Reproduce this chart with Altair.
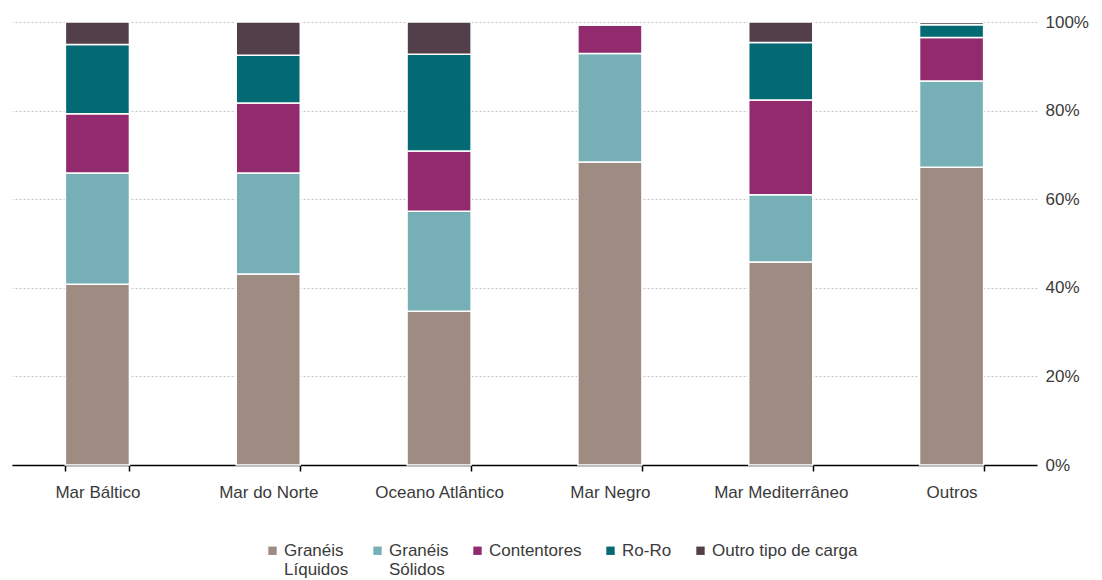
import altair as alt
import pandas as pd

regions = ["Mar Báltico", "Mar do Norte", "Oceano Atlântico", "Mar Negro",
           "Mar Mediterrâneo", "Outros"]
cargo_types = ["Granéis Líquidos", "Granéis Sólidos", "Contentores", "Ro-Ro",
               "Outro tipo de carga"]
colors = ["#9E8C83", "#76AFB6", "#922B6E", "#036A73", "#523F4A"]

# share (%) of each cargo type per region
liquidos = [40.8, 43.1, 34.7, 68.4, 45.8, 67.2]
solidos = [25.1, 22.8, 22.6, 24.5, 15.2, 19.5]
contentores = [13.4, 15.8, 13.6, 6.4, 21.4, 9.8]
ro_ro = [15.6, 10.8, 21.8, 0.0, 13.0, 2.9]
outro = [5.1, 7.5, 7.3, 0.0, 4.6, 0.5]

series = [liquidos, solidos, contentores, ro_ro, outro]
rows = []
for k, (name, vals) in enumerate(zip(cargo_types, series)):
    for region, v in zip(regions, vals):
        rows.append({"regiao": region, "tipo": name, "ordem": k, "valor": v})
df = pd.DataFrame(rows)

FONT = "Liberation Sans"
TXT = "#3a3a3a"

# every legend label gets two lines so the swatches all sit on the first one
legend_labels = (
    "datum.label == 'Granéis Líquidos' ? ['Granéis', 'Líquidos'] : "
    "datum.label == 'Granéis Sólidos' ? ['Granéis', 'Sólidos'] : "
    "[datum.label, ' ']"
)

chart = alt.Chart(df).mark_bar(stroke="white", strokeWidth=1.5).encode(
    x=alt.X("regiao:N", sort=regions, title=None,
            scale=alt.Scale(paddingInner=0.625, paddingOuter=0.3125),
            axis=alt.Axis(labelAngle=0, tickBand="extent", grid=False,
                          domainColor="black", domainWidth=1.5,
                          tickColor="black", tickWidth=1.5, tickSize=6,
                          labelPadding=13, labelFontSize=17, labelFont=FONT,
                          labelColor=TXT)),
    y=alt.Y("valor:Q", stack="zero", title=None,
            scale=alt.Scale(domain=[0, 100], nice=False),
            axis=alt.Axis(orient="right", values=[0, 20, 40, 60, 80, 100],
                          labelExpr="datum.value + '%'", domain=False,
                          ticks=False, labelPadding=8, labelFontSize=17,
                          labelFont=FONT, labelColor=TXT, gridColor="#c4c4c4",
                          gridDash=[2, 2], gridWidth=1)),
    color=alt.Color("tipo:N", scale=alt.Scale(domain=cargo_types, range=colors),
                    legend=alt.Legend(
                        title=None, orient="none", direction="horizontal",
                        legendX=252, legendY=520,
                        symbolType="square", symbolSize=70,
                        symbolStrokeWidth=0, labelFontSize=17,
                        labelFont=FONT, labelColor=TXT, columnPadding=20,
                        labelOffset=3, labelLimit=300,
                        labelExpr=legend_labels)),
    order=alt.Order("ordem:Q", sort="ascending"),
).properties(
    width=1025, height=443,
    autosize=alt.AutoSizeParams(type="none"),
    padding={"left": 12, "top": 22, "right": 65, "bottom": 115},
).configure_view(stroke=None)

chart.save("out.html", embed_options={"renderer": "svg", "actions": False})
